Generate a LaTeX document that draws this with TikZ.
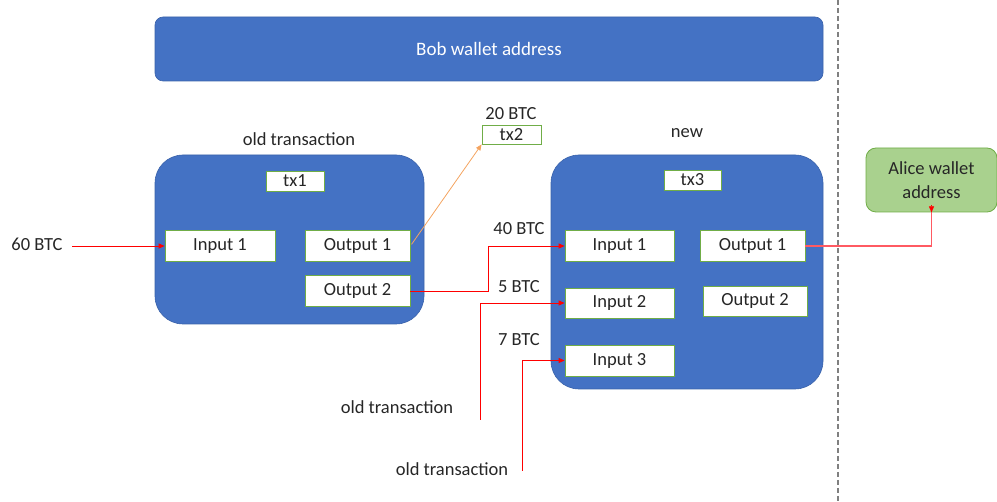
\documentclass[tikz,border=0pt]{standalone}
\usepackage{fontspec}
\setmainfont{Carlito}
\usetikzlibrary{arrows.meta}
\definecolor{blueA}{HTML}{4472C4}
\definecolor{blueB}{HTML}{3A62AA}
\definecolor{greenA}{HTML}{70AD47}
\definecolor{greenF}{HTML}{A9D18E}
\definecolor{redL}{HTML}{FF0000}
\definecolor{pinkL}{HTML}{FF5A62}
\definecolor{orangeL}{HTML}{F4A460}
\definecolor{grayD}{HTML}{808080}
\begin{document}
\begin{tikzpicture}[x=1pt,y=-1pt,
  every node/.style={font=\fontsize{18.5}{22}\selectfont, text=black!85},
  txbox/.style={draw=blueB, fill=blueA, line width=0.6pt, rounded corners=28pt},
  slot/.style={draw=greenA, fill=white, line width=0.8pt, inner sep=0pt},
  lbl/.style={inner sep=0pt},
  flow/.style={draw=redL, line width=0.8pt, -{Triangle[length=6pt,width=5pt]}}
]
\useasboundingbox (0,0) rectangle (997,502);

% wallet bar and divider
\node[draw=blueB, fill=blueA, line width=0.6pt, rounded corners=8pt, minimum width=668pt, minimum height=64pt, inner sep=0pt, text=white, font=\fontsize{19}{22}\selectfont] (bob) at (489,49) {Bob wallet address};
\draw[grayD, line width=1.2pt, dash pattern=on 5pt off 3pt] (838,0) coordinate (dtop) -- (838,502) coordinate (dbot);

% old transaction tx1
\node[txbox, minimum width=269pt, minimum height=169pt] (t1) at (289.5,239.5) {};
\node[lbl] (t1lbl) at (299,139) {old transaction};
\node[slot, minimum width=58pt, minimum height=20pt] (tx1) at (295,181) {tx1};
\node[slot, minimum width=110pt, minimum height=31pt] (in1) at (220,246) {Input 1};
\node[slot, minimum width=105pt, minimum height=31pt] (out1) at (357.5,246) {Output 1};
\node[slot, minimum width=105pt, minimum height=31pt] (out2) at (357.5,291) {Output 2};

% tx2
\node[slot, minimum width=59pt, minimum height=19pt] (tx2) at (511.5,134.5) {tx2};
\node[lbl] (b20) at (511,114) {20 BTC};

% new transaction tx3
\node[txbox, minimum width=272pt, minimum height=234pt] (t3) at (687,272) {};
\node[lbl] (t3lbl) at (687,133) {new};
\node[slot, minimum width=57pt, minimum height=20pt] (tx3) at (692.5,180) {tx3};
\node[slot, minimum width=109pt, minimum height=31pt] (nin1) at (619.5,246) {Input 1};
\node[slot, minimum width=105pt, minimum height=31pt] (nout1) at (752.5,246) {Output 1};
\node[slot, minimum width=109pt, minimum height=30pt] (nin2) at (619.5,303) {Input 2};
\node[slot, minimum width=104pt, minimum height=30pt] (nout2) at (755,301) {Output 2};
\node[slot, minimum width=109pt, minimum height=31pt] (nin3) at (619.5,360.5) {Input 3};

% Alice
\node[draw=greenA, fill=greenF, line width=0.8pt, rounded corners=10pt, minimum width=131pt, minimum height=64pt, inner sep=0pt, align=center, font=\fontsize{18.5}{24}\selectfont] (alice) at (931.5,180) {Alice wallet\\address};

% amount labels
\node[lbl] (b60) at (37,244) {60 BTC};
\node[lbl] (b40) at (519,229) {40 BTC};
\node[lbl] (b5) at (519,287) {5 BTC};
\node[lbl] (b7) at (519,340) {7 BTC};
\node[lbl] (old2) at (397,407) {old transaction};
\node[lbl] (old3) at (452,469) {old transaction};

% connectors
\coordinate (s60) at (72,246);
\coordinate (s2) at (480,420);
\coordinate (s3) at (522,471);
\draw[flow] (s60) -- (in1.west);
\draw[draw=orangeL, line width=0.8pt, -{Triangle[length=6pt,width=5pt]}, shorten <=2pt] (out1.east) -- (tx2.south west);
\draw[flow] (out2.east) -- (488,291) |- (nin1.west);
\draw[flow] (s2) |- (nin2.west);
\draw[flow] (s3) |- (nin3.west);
\draw[draw=pinkL, line width=1.4pt] (nout1.east) -| (alice.south);
\draw[draw=redL, -{Triangle[length=6pt,width=5pt]}] ([yshift=7pt]alice.south) -- (alice.south);
\end{tikzpicture}
\end{document}
